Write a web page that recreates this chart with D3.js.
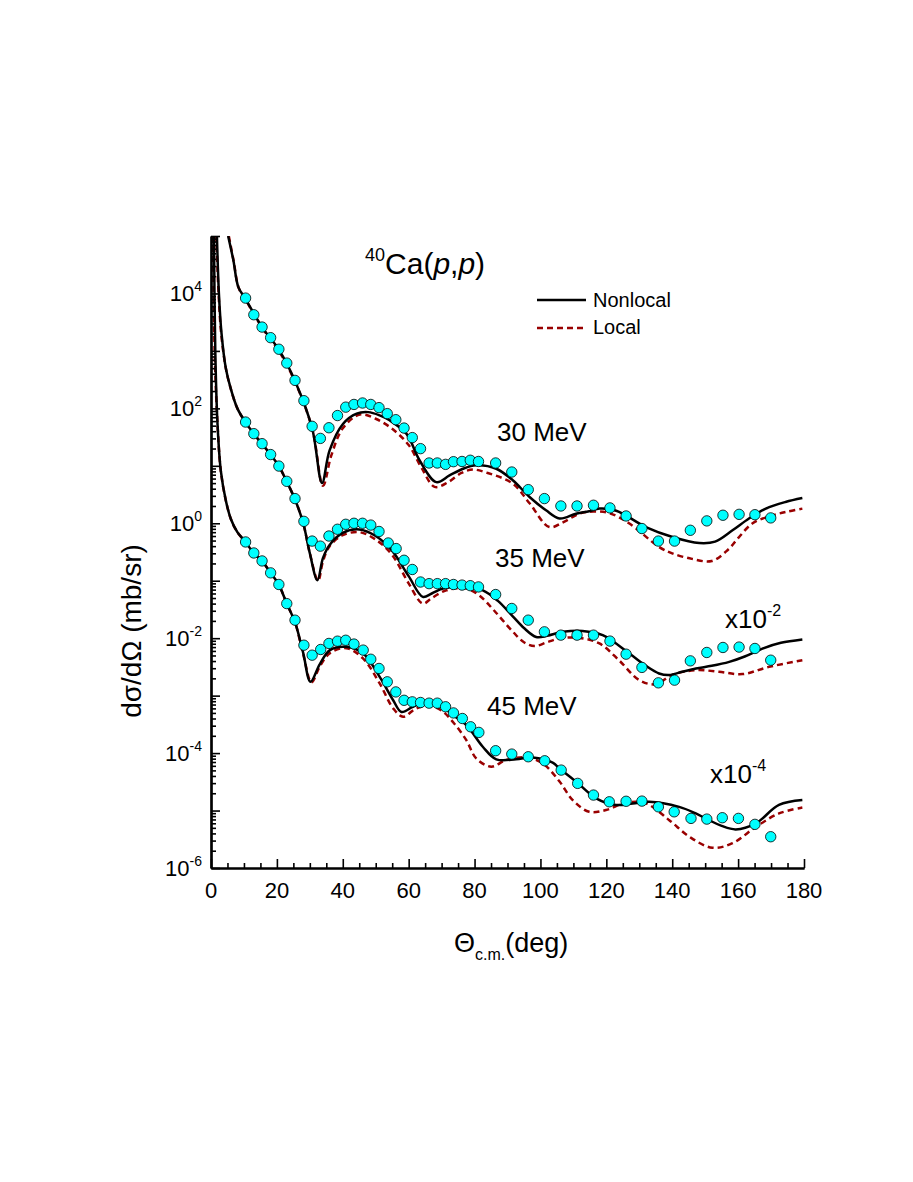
<!DOCTYPE html>
<html>
<head>
<meta charset="utf-8">
<script src="https://cdn.jsdelivr.net/npm/d3@7"></script>
<style>
  body { margin: 0; background: #fff; }
  svg text { font-family: "Liberation Sans", Arial, sans-serif; fill: #000; }
</style>
</head>
<body>
<svg id="chart" width="913" height="1182"></svg>
<script>
// 40Ca(p,p) elastic cross sections

// Experimental points (35 MeV already x10^-2, 45 MeV already x10^-4)
const exp30Theta = [10.5, 13, 15.5, 18.1, 20.6, 23, 25.5, 28.2, 30.7, 33.2, 35.8, 38.4, 40.9, 43.4, 46, 48.5, 51, 53.5, 56.1, 58.6, 61.1, 63.6, 66.2, 68.7, 71.2, 73.6, 76.2, 78.7, 81.2, 86.4, 91.3, 96.3, 101.2, 106.2, 111.1, 116.1, 121.1, 126, 130.8, 135.8, 140.7, 145.5, 150.5, 155.4, 160.3, 165.1, 169.9];
const exp30 = [8300, 4260, 2600, 1700, 1070, 614, 307, 136, 48.7, 30, 46, 75, 105, 117, 124, 117, 103, 81, 63.5, 45.4, 31, 19.9, 11.2, 11.2, 10.6, 11.8, 11.9, 12.5, 11.9, 11.2, 7.8, 3.85, 2.69, 2.0, 2.0, 2.06, 1.85, 1.34, 0.81, 0.49, 0.49, 0.755, 1.1, 1.38, 1.43, 1.41, 1.24];

const exp35Theta = [10.5, 13, 15.5, 18.1, 20.6, 23, 25.5, 28.2, 30.7, 33.2, 35.8, 38.4, 40.9, 43.4, 46, 48.5, 51, 53.8, 56.2, 58.6, 61.1, 63.6, 66.2, 68.7, 71.2, 73.6, 76.2, 78.7, 81.2, 86.4, 91.3, 96.3, 101.2, 106.2, 111.1, 116.1, 121.1, 126, 130.8, 135.8, 140.7, 145.5, 150.5, 155.4, 160.3, 165.1, 169.9];
const exp35 = [57.8, 36.3, 24.3, 15.7, 9.9, 5.37, 2.69, 1.08, 0.49, 0.40, 0.60, 0.787, 0.96, 1.0, 1.0, 0.93, 0.72, 0.454, 0.363, 0.227, 0.157, 0.095, 0.089, 0.089, 0.089, 0.086, 0.084, 0.082, 0.078, 0.0575, 0.0329, 0.0206, 0.0129, 0.0113, 0.0113, 0.0113, 0.0089, 0.00527, 0.0031, 0.00167, 0.00186, 0.00403, 0.00564, 0.00689, 0.0070, 0.00662, 0.00414];

const exp45Theta = [10.5, 13, 15.5, 18.1, 20.6, 23, 25.5, 28.2, 30.7, 33.3, 35.8, 38.4, 40.9, 43.4, 46.2, 48.5, 51, 53.5, 56.1, 58.6, 61.1, 63.6, 66.2, 68.7, 71.2, 73.6, 76.3, 78.8, 81.3, 86.4, 91.3, 96.3, 101.3, 106.3, 111.3, 116.1, 120.9, 126, 130.8, 135.8, 140.6, 145.7, 150.5, 155.2, 160.1, 165.1, 169.9];
const exp45 = [0.473, 0.304, 0.221, 0.137, 0.086, 0.040, 0.0206, 0.00755, 0.00506, 0.00636, 0.0081, 0.00887, 0.0092, 0.0079, 0.0062, 0.0043, 0.00297, 0.00174, 0.00116, 0.00083, 0.00078, 0.00076, 0.00074, 0.00074, 0.00064, 0.00050, 0.00040, 0.000287, 0.000229, 0.00011, 9.61e-5, 8.63e-5, 7.35e-5, 5.06e-5, 2.97e-5, 1.86e-5, 1.42e-5, 1.45e-5, 1.46e-5, 1.16e-5, 9.5e-6, 7.3e-6, 7.1e-6, 7.5e-6, 7.3e-6, 5.75e-6, 3.5e-6];

// Nonlocal (solid) calculations
const nl30Theta = [5.2, 6.8, 8.3, 10.5, 15.5, 20.6, 25.5, 30.7, 33.7, 36, 40.1, 44.2, 47.7, 51.2, 54.2, 59.3, 63.3, 68.4, 72.4, 76.5, 80.5, 86.6, 91.6, 96.7, 101.7, 105.8, 110.8, 114.8, 117.9, 123, 132, 140.1, 148.2, 153, 158.3, 163.3, 168.4, 174.4, 179.5];
const nl30 = [1e5, 3.75e4, 1.29e4, 8000, 2600, 1050, 300, 45, 5.0, 18.6, 54, 81, 86, 75.5, 62, 36.3, 12.5, 5.2, 6.8, 8.9, 10.2, 8.9, 5.6, 2.87, 1.68, 1.21, 1.47, 1.62, 1.8, 1.65, 0.86, 0.578, 0.454, 0.48, 0.755, 1.21, 1.80, 2.35, 2.75];

const nl35Theta = [1.8, 2.4, 3.2, 4.5, 6, 8, 10.5, 13, 15.5, 18.1, 20.6, 23, 25.5, 28, 30, 32.3, 34, 36, 40, 45, 50, 55, 60, 64.3, 67, 70.4, 76.5, 82.5, 87, 91.6, 95, 98.7, 102, 106.8, 112.8, 118.9, 127, 132, 136, 139.1, 143, 147.2, 152, 157.3, 162, 167.4, 173, 179.5];
const nl35 = [1e5, 1e4, 2000, 500, 220, 100, 57, 36, 24, 15.7, 9.9, 5.3, 2.6, 1.0, 0.3, 0.102, 0.25, 0.42, 0.68, 0.78, 0.6, 0.33, 0.12, 0.0523, 0.06, 0.073, 0.078, 0.068, 0.045, 0.024, 0.015, 0.0105, 0.011, 0.0129, 0.0134, 0.0113, 0.0054, 0.0033, 0.00243, 0.00228, 0.0026, 0.00297, 0.0033, 0.00387, 0.0048, 0.0066, 0.0083, 0.0095];

const nl45Theta = [0.9, 1.3, 2, 3, 4.5, 6, 8, 10.5, 13, 15.5, 18.1, 20.6, 23, 25.5, 28, 30.2, 33, 36.1, 41.1, 46.2, 51.2, 55.3, 57.8, 61.3, 65.4, 69.4, 73, 77.5, 82.5, 86.6, 92.6, 97.7, 103.7, 105.8, 110.8, 116.9, 122.9, 128, 133, 142.1, 147, 151.2, 155, 159.3, 165.4, 172.4, 179.5];
const nl45 = [1e5, 1e3, 50, 8, 2.5, 1.2, 0.7, 0.47, 0.3, 0.22, 0.137, 0.085, 0.04, 0.019, 0.0055, 0.00174, 0.0035, 0.0062, 0.00706, 0.0054, 0.00212, 0.00083, 0.00052, 0.00064, 0.00078, 0.00072, 0.00048, 0.000307, 0.000129, 7.8e-5, 7.8e-5, 8.4e-5, 6.8e-5, 5.4e-5, 3.2e-5, 1.63e-5, 1.25e-5, 1.32e-5, 1.42e-5, 1.16e-5, 9e-6, 6.8e-6, 5.4e-6, 4.7e-6, 6e-6, 1.25e-5, 1.52e-5];

// Local (dashed) calculations
const lo30Theta = [5.4, 6.9, 8.4, 10.5, 15.5, 20.6, 25.5, 30.7, 34, 36.5, 40, 45.2, 50, 55, 60, 64, 67.9, 72, 76, 79.5, 84, 91.6, 96.7, 102.7, 107, 111.8, 116, 120.9, 127, 136, 140, 146, 152, 157, 160, 164.3, 170, 175, 179.5];
const lo30 = [1e5, 3.6e4, 1.25e4, 7800, 2550, 1000, 290, 45, 4.5, 15, 45, 78, 66, 44, 23, 9, 4.3, 5.2, 7.5, 8.6, 7.5, 4.9, 2.23, 0.86, 1.05, 1.47, 1.6, 1.5, 0.99, 0.387, 0.3, 0.24, 0.22, 0.35, 0.55, 0.99, 1.35, 1.6, 1.8];

const lo35Theta = [1.6, 2.3, 3.1, 4.5, 6, 8, 10.5, 13, 15.5, 18.1, 20.6, 23, 25.5, 28, 30, 32.5, 34, 36, 40, 45, 50, 55, 60, 64.3, 67, 71.4, 77.5, 81.5, 86, 91.6, 95, 98.2, 102, 105.8, 111.8, 117.9, 123.9, 130, 135, 140, 147.2, 154.2, 161.3, 169.4, 179.5];
const lo35 = [1e5, 1e4, 2000, 500, 220, 100, 57, 36, 24, 15.7, 9.9, 5.3, 2.6, 1.0, 0.3, 0.1, 0.22, 0.4, 0.62, 0.7, 0.52, 0.28, 0.09, 0.040, 0.05, 0.068, 0.073, 0.055, 0.03, 0.013, 0.0085, 0.0073, 0.0085, 0.0099, 0.0101, 0.0081, 0.0041, 0.00186, 0.00158, 0.0023, 0.00278, 0.0026, 0.00237, 0.00317, 0.00414];

const lo45Theta = [0.6, 1.1, 2, 3, 4.5, 6, 8, 10.5, 13, 15.5, 18.1, 20.6, 23, 25.5, 28, 30.5, 33, 36.1, 41.1, 46.2, 51.2, 55.3, 58.3, 62.3, 66.4, 70, 73.4, 77.5, 80.5, 85.1, 89.6, 95.7, 100.7, 105.8, 109.8, 114.8, 119.9, 126, 132, 139.1, 145.2, 152.2, 158.3, 165.4, 172.4, 179.5];
const lo45 = [1e5, 1e3, 50, 8, 2.5, 1.2, 0.7, 0.47, 0.3, 0.22, 0.137, 0.085, 0.04, 0.019, 0.0052, 0.0017, 0.0032, 0.0055, 0.0067, 0.0044, 0.00163, 0.0006, 0.00043, 0.0006, 0.00066, 0.00055, 0.00035, 0.000168, 8.1e-5, 5.8e-5, 7.6e-5, 8.4e-5, 6.6e-5, 3.2e-5, 1.52e-5, 9.5e-6, 1.02e-5, 1.37e-5, 1.33e-5, 6.8e-6, 3.5e-6, 2.25e-6, 2.7e-6, 5.2e-6, 8.9e-6, 1.13e-5];

// Axis ticks
const xMajor = d3.range(0, 181, 20);
const xMinor = d3.range(0, 181, 5).filter((d) => d % 20 !== 0);
const yLabelExps = [-6, -4, -2, 0, 2, 4];

const svg = d3.select('#chart');

// Scales
const x = d3.scaleLinear().domain([0, 180]).range([211, 804]);
const y = d3.scaleLog().domain([1e-6, 1e5]).range([868, 236]);

svg
  .append('clipPath')
  .attr('id', 'plotclip')
  .append('rect')
  .attr('x', x(0))
  .attr('y', y(1e5))
  .attr('width', x(180) - x(0))
  .attr('height', y(1e-6) - y(1e5));

const line = d3
  .line()
  .x((d) => x(d[0]))
  .y((d) => y(d[1]))
  .curve(d3.curveCatmullRom.alpha(0.5));

const plot = svg.append('g').attr('clip-path', 'url(#plotclip)');

// Local (dashed)
[
  [lo30Theta, lo30],
  [lo35Theta, lo35],
  [lo45Theta, lo45],
].forEach(([t, v]) => {
  plot
    .append('path')
    .attr('d', line(d3.zip(t, v)))
    .attr('fill', 'none')
    .attr('stroke', '#990000')
    .attr('stroke-width', 2.5)
    .attr('stroke-dasharray', '6,4');
});

// Nonlocal (solid)
[
  [nl30Theta, nl30],
  [nl35Theta, nl35],
  [nl45Theta, nl45],
].forEach(([t, v]) => {
  plot
    .append('path')
    .attr('d', line(d3.zip(t, v)))
    .attr('fill', 'none')
    .attr('stroke', '#000')
    .attr('stroke-width', 2.5);
});

// Data points
[
  [exp30Theta, exp30],
  [exp35Theta, exp35],
  [exp45Theta, exp45],
].forEach(([t, v]) => {
  svg
    .append('g')
    .selectAll('circle')
    .data(d3.zip(t, v))
    .enter()
    .append('circle')
    .attr('cx', (d) => x(d[0]))
    .attr('cy', (d) => y(d[1]))
    .attr('r', 5.2)
    .attr('fill', '#00ffff')
    .attr('stroke', '#000')
    .attr('stroke-width', 0.8);
});

// X axis (ticks pointing inside)
const xAxisMinor = svg
  .append('g')
  .attr('transform', `translate(0,${y(1e-6)})`)
  .call(d3.axisBottom(x).tickValues(xMinor).tickSize(-5).tickSizeOuter(0).tickFormat(''));
const xAxisMajor = svg
  .append('g')
  .attr('transform', `translate(0,${y(1e-6)})`)
  .call(d3.axisBottom(x).tickValues(xMajor).tickSize(-9).tickSizeOuter(0).tickFormat(''));

// Y axis: decade and minor ticks
const yDecades = d3.range(-6, 6).map((e) => Math.pow(10, e));
const yMinorVals = [];
for (let e = -6; e < 5; e++) {
  for (let m = 2; m < 10; m++) yMinorVals.push(m * Math.pow(10, e));
}
const yAxisMinor = svg
  .append('g')
  .attr('transform', `translate(${x(0)},0)`)
  .call(d3.axisLeft(y).tickValues(yMinorVals).tickSize(-5).tickSizeOuter(0).tickFormat(''));
const yAxisMajor = svg
  .append('g')
  .attr('transform', `translate(${x(0)},0)`)
  .call(d3.axisLeft(y).tickValues(yDecades).tickSize(-9).tickSizeOuter(0).tickFormat(''));

[xAxisMinor, xAxisMajor, yAxisMinor, yAxisMajor].forEach((g) => {
  g.selectAll('line').attr('stroke', '#000').attr('stroke-width', 1.6);
  g.select('.domain').attr('stroke', '#000').attr('stroke-width', 2.2);
});

// X tick labels
svg
  .append('g')
  .selectAll('text')
  .data(xMajor)
  .enter()
  .append('text')
  .attr('x', (d) => x(d))
  .attr('y', y(1e-6) + 30)
  .attr('text-anchor', 'middle')
  .attr('font-size', 22)
  .text((d) => d);

// Y tick labels 10^n
const yLab = svg
  .append('g')
  .selectAll('text')
  .data(yLabelExps)
  .enter()
  .append('text')
  .attr('x', 202)
  .attr('y', (d) => y(Math.pow(10, d)) + 8)
  .attr('text-anchor', 'end')
  .attr('font-size', 22);
yLab.append('tspan').text('10');
yLab
  .append('tspan')
  .attr('dy', -10)
  .attr('font-size', 14)
  .text((d) => d);

// Axis titles
const xTitle = svg.append('text').attr('x', 454).attr('y', 952).attr('font-size', 27);
xTitle.append('tspan').text('\u0398');
xTitle.append('tspan').attr('font-size', 16).attr('dy', 8).text('c.m.');
xTitle.append('tspan').attr('dy', -8).text('(deg)');

svg
  .append('text')
  .attr('transform', 'translate(141,631) rotate(-90)')
  .attr('text-anchor', 'middle')
  .attr('font-size', 28)
  .text('d\u03c3/d\u03a9 (mb/sr)');

// Reaction title
const title = svg.append('text').attr('x', 365).attr('y', 274).attr('font-size', 30);
title.append('tspan').attr('font-size', 18).attr('dy', -13).text('40');
title.append('tspan').attr('dy', 13).text('Ca(');
title.append('tspan').attr('font-style', 'italic').text('p');
title.append('tspan').text(',');
title.append('tspan').attr('font-style', 'italic').text('p');
title.append('tspan').text(')');

// Legend
svg.append('line').attr('x1', 537).attr('x2', 586).attr('y1', 300).attr('y2', 300)
  .attr('stroke', '#000').attr('stroke-width', 2.5);
svg.append('text').attr('x', 593).attr('y', 307).attr('font-size', 20).text('Nonlocal');
svg.append('line').attr('x1', 537).attr('x2', 586).attr('y1', 328).attr('y2', 328)
  .attr('stroke', '#990000').attr('stroke-width', 2.5).attr('stroke-dasharray', '6,4');
svg.append('text').attr('x', 593).attr('y', 334).attr('font-size', 20).text('Local');

// Energy labels and scale factors
const energyLabels = ['30 MeV', '35 MeV', '45 MeV'];
const energyPos = [
  [497, 441],
  [495, 567],
  [487, 715],
];
energyLabels.forEach((t, i) => {
  svg.append('text').attr('x', energyPos[i][0]).attr('y', energyPos[i][1]).attr('font-size', 26).text(t);
});

const scaleExps = ['-2', '-4'];
const scalePos = [
  [725, 628],
  [710, 783],
];
scaleExps.forEach((e, i) => {
  const t = svg.append('text').attr('x', scalePos[i][0]).attr('y', scalePos[i][1]).attr('font-size', 26);
  t.append('tspan').text('x10');
  t.append('tspan').attr('font-size', 16).attr('dy', -12).text(e);
});
</script>
</body>
</html>
